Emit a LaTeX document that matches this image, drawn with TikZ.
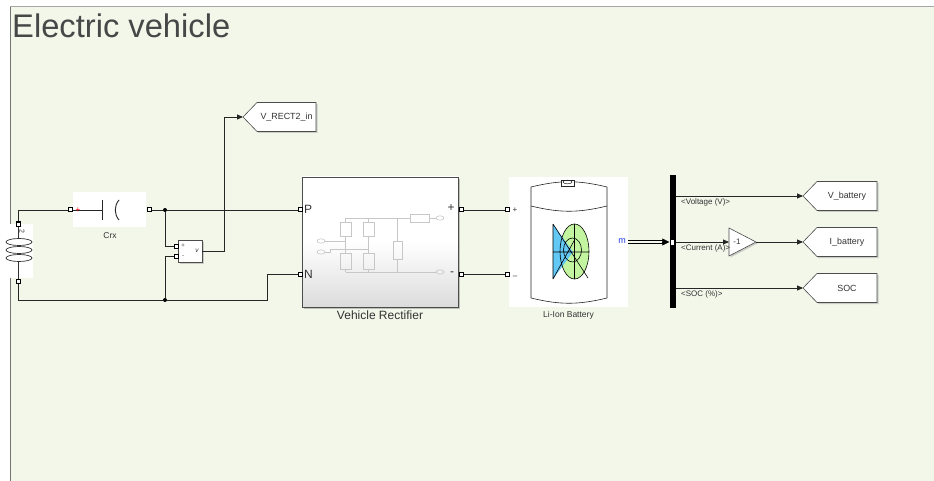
\documentclass[tikz,border=0pt]{standalone}
\usepackage{fontspec}
\setmainfont{Liberation Sans}
\usetikzlibrary{arrows.meta, positioning, shadows, calc}
\definecolor{sheet}{RGB}{242,247,234}
\definecolor{cellblue}{RGB}{100,200,245}
\definecolor{cellgreen}{RGB}{195,245,160}
\definecolor{portblue}{RGB}{30,60,230}
% goto tag: name, tip point, length, text
\newcommand{\gototag}[4]
{
	\coordinate (#1) at (#2);
	\draw[blk] (#1) -- ++(14,-14.5) -- ++(#3-14,0) -- ++(0,29) -- ++(14-#3,0) -- cycle;
	\node[font=\fontsize{8.9}{9}\selectfont] at ($(#1)+(7+#3/2,0)$) (#1txt){#4};
}

\begin{document}
\begin{tikzpicture}[x=1pt, y=-1pt,
	every node/.append style={inner sep=0pt, text=black!80,
		font=\fontsize{8}{9}\selectfont},
	wire/.style={draw=black!85, line width=0.9pt},
	sig/.style={wire, -{Triangle[length=6pt, width=5pt]}},
	port/.style={draw=black, fill=white, line width=1pt, minimum size=4pt},
	dot/.style={circle, fill=black, minimum size=4pt},
	blk/.style={draw=black!70, fill=white, line width=0.6pt,
		drop shadow={shadow xshift=1.5pt, shadow yshift=-1.5pt, opacity=0.35}},
	icon/.style={draw=black!22, line width=0.6pt}]

	\useasboundingbox (0,0) rectangle (934,481);
	\fill[white] (0,0) rectangle (934,481);
	\fill[sheet] (10,6) rectangle (934,481);
	\draw[black!35, line width=1.5pt] (10.5,481) -- (10.5,6.5) -- (934,6.5);
	\draw[black!55, line width=1.2pt] (10.5,481) -- (10.5,7);

	\node[anchor=base west, font=\fontsize{32.7}{36}\selectfont, text=black!72] at (12,38) (title){Electric vehicle};

	% receiver coil
	\node[fill=white, minimum width=29pt, minimum height=54pt] at (18.5,251) (Lbox){};
	\node[port] at (18,224) (L1){};
	\node[port] at (18,281) (L2){};
	\foreach \yy in {242,250,258}
		\draw[black!80, line width=0.7pt] (19,\yy) ellipse (13 and 3.5);
	\draw[black!80, line width=0.7pt] (L1) -- (18,238.5);
	\draw[black!80, line width=0.7pt] (18,261.5) -- (L2);
	\node[rotate=-90, font=\fontsize{7}{7}\selectfont] at (22,231) (Lnum){2};

	% series capacitor
	\node[fill=white, minimum width=73pt, minimum height=35pt] at (109.5,209.5) (Cbox){};
	\node[port] at (70,210) (cL){};
	\node[port] at (149,210) (cR){};
	\draw[wire] (cL) -- (102,210);
	\node[text=red, font=\fontsize{8}{8}\selectfont] at (78,210) (cplus){+};
	\draw[black!85, line width=0.9pt] (102,200) -- (102,220);
	\draw[black!85, line width=0.9pt] (119,200) .. controls (114,206) and (114,214) .. (119,220);
	\node[font=\fontsize{8.5}{9}\selectfont] at (110,236) (crx){Crx};

	\node[dot] at (165,210) (j1){};
	\node[dot] at (165,300) (j2){};

	% voltage measurement
	\node[blk, minimum width=24pt, minimum height=22pt] at (190,251) (vs){};
	\node[port] at (176,246) (vp){};
	\node[port] at (176,256) (vm){};
	\node[font=\fontsize{6}{6}\selectfont] at (183,246) (vsp){+};
	\node[font=\fontsize{6}{6}\selectfont] at (183,256.5) (vsm){-};
	\node[font=\fontsize{6.5}{6}\selectfont\itshape] at (197,251) (vsv){v};
	\coordinate (vbend) at (224,251);

	\gototag{gR}{243,117}{73}{V\_RECT2\_in}

	% rectifier
	\node[draw=black!70, line width=0.6pt, top color=white, bottom color=black!14, middle color=white,
		minimum width=156pt, minimum height=130pt,
		drop shadow={shadow xshift=2pt, shadow yshift=-2pt, opacity=0.45}] at (380,242) (rect){};
	\node[port] at (300,210) (P){};
	\node[port] at (300,274) (N){};
	\node[port] at (461,210) (rp){};
	\node[port] at (461,274) (rm){};
	\node[anchor=west, font=\fontsize{12}{12}\selectfont] at (304,209) (Plbl){P};
	\node[anchor=west, font=\fontsize{12}{12}\selectfont] at (304,274) (Nlbl){N};
	\node[font=\fontsize{12}{12}\selectfont] at (451,208.5) (rplbl){+};
	\node[font=\fontsize{12}{12}\selectfont] at (452,273.5) (rmlbl){-};
	\node[below=3pt of rect, font=\fontsize{12}{12}\selectfont] (rlbl){Vehicle Rectifier};
	\draw[icon] (340,222) rectangle (351,236) (363,222) rectangle (374,236)
		(340,253) rectangle (351,269) (363,253) rectangle (374,269)
		(393,241) rectangle (402,259) (410,214) rectangle (429,222);
	\draw[icon] (345.5,218) -- (410,218) (429,218) -- (436,218) (345.5,272) -- (436,272)
		(345.5,218) -- (345.5,222) (345.5,236) -- (345.5,253) (345.5,269) -- (345.5,272)
		(368.5,218) -- (368.5,222) (368.5,236) -- (368.5,253) (368.5,269) -- (368.5,272)
		(397.5,218) -- (397.5,241) (397.5,259) -- (397.5,272)
		(325,241) -- (345.5,241) (325,252) -- (330,252) -- (330,249.5) -- (368.5,249.5);
	\draw[icon] (440,218) ellipse (4 and 2.2) (440,272) ellipse (4 and 2.2)
		(321,241) ellipse (4 and 2.2) (321,252) ellipse (4 and 2.2);

	% battery
	\node[fill=white, minimum width=119pt, minimum height=130pt] at (568.5,242) (batt){};
	\node[port] at (507,210) (bp){};
	\node[port] at (507,274) (bm){};
	\node at (515,210) (bplbl){+};
	\node at (515,277) (bmlbl){--};
	\node[below=4pt of batt, font=\fontsize{8.5}{9}\selectfont] (blbl){Li-Ion Battery};
	\draw[black!85, line width=0.6pt] (531,187) .. controls (560,180) and (578,180) .. (607,187);
	\draw[black!85, line width=0.6pt] (531,206) .. controls (560,213) and (578,213) .. (607,206);
	\draw[black!85, line width=0.6pt] (531,187) -- (531,298) .. controls (560,305) and (578,305) .. (607,298) -- (607,187);
	\draw[black!85, line width=0.6pt, fill=white] (561,180) rectangle (574,186);
	\draw[black!85, line width=0.5pt] (567.5,182) ellipse (4.5 and 1.8);
	\fill[cellgreen] (574.5,251.5) ellipse (14.5 and 27.5);
	\fill[cellblue] (553,224) -- (573,252) -- (553,279) -- cycle;
	\draw[black, line width=0.6pt] (574.5,251.5) ellipse (14.5 and 27.5)
		(572.5,250) ellipse (9 and 12)
		(553,224) -- (553,279) (553,224) -- (588,278) (553,279) -- (574.5,240)
		(574.5,224) -- (574.5,279) (553,252) -- (589,252);
	\node[text=portblue, font=\fontsize{9}{9}\selectfont] at (622,241) (mlbl){m};
	\coordinate (mout) at (628,242);

	% bus selector
	\node[fill=black, minimum width=6pt, minimum height=133pt] at (672.5,241.5) (bus){};
	\node[fill=white, minimum width=3pt, minimum height=5pt] at (672,242) (busin){};

	\gototag{gV}{803,196}{74}{V\_battery}
	\gototag{gI}{803,242}{74}{I\_battery}
	\gototag{gS}{803,288}{74}{SOC}

	% gain
	\coordinate (gain) at (729,242);
	\coordinate (gainout) at (756,242);
	\draw[blk] (gain) ++(0,-14) -- (gainout) -- ++(-27,14) -- cycle;
	\node at (737,242) (gainlbl){-1};

	% wiring
	\draw[wire] (L1) |- (cL);
	\draw[wire] (cR) -- (j1) -- (P);
	\draw[wire] (j1) |- (vp);
	\draw[wire] (vm) -| (j2);
	\draw[wire] (L2) |- (j2);
	\coordinate (nbend) at (267,300);
	\draw[wire] (j2) -- (nbend) |- (N);
	\draw[sig] (vs.east) -- (vbend) |- (gR);
	\draw[wire] (rp) -- (bp);
	\draw[wire] (rm) -- (bm);
	\draw[black, line width=0.8pt, double=sheet, double distance=2.2pt, shorten >=4pt] (mout) -- (bus.west |- mout);
	\draw[black, line width=0.6pt, -{Triangle[length=7pt, width=7pt]}] ($(bus.west |- mout)+(-6,0)$) -- (bus.west |- mout);
	\draw[sig] (bus.east |- gV) -- (gV);
	\draw[sig] (bus.east |- gain) -- (gain);
	\draw[sig] (gainout) -- (gI);
	\draw[sig] (bus.east |- gS) -- (gS);
	\node[anchor=north west] at (681,199) (lV){<Voltage (V)>};
	\node[anchor=north west] at (681,245) (lI){<Current (A)>};
	\node[anchor=north west] at (681,291) (lS){<SOC (\%)>};
\end{tikzpicture}
\end{document}
